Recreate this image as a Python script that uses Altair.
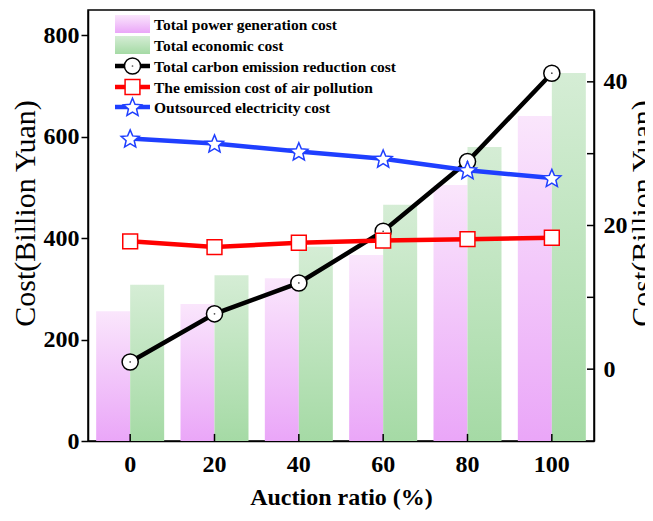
import math
import altair as alt
import pandas as pd

# ---------------- data ----------------
ratios = ["0", "20", "40", "60", "80", "100"]
power_generation = [256, 270, 321, 367, 505, 641]      # left axis
economic = [308, 327, 383, 466, 580, 726]              # left axis
carbon_reduction = [1.0, 7.7, 12.0, 19.2, 28.9, 41.2]  # right axis
air_pollution = [17.8, 17.0, 17.6, 17.9, 18.1, 18.3]   # right axis
outsourced = [32.1, 31.4, 30.3, 29.3, 27.7, 26.6]      # right axis

bar_names = ["Total power generation cost", "Total economic cost"]
line_names = [
    "Total carbon emission reduction cost",
    "The emission cost of air pollution",
    "Outsourced electricity cost",
]
left_ticks = [0, 200, 400, 600, 800]
right_ticks = [0, 10, 20, 30, 40]
x_title = "Auction ratio (%)"
y_title = "Cost(Billion Yuan)"

# ---------------- styling ----------------
FONT = "Liberation Serif"
W, H = 506, 431
PINK = ("#fae6fc", "#eaa6f8")
GREEN = ("#d5edd5", "#a5daa5")
LINE_COLORS = ["#000000", "#ff0000", "#1f3fff"]


def star_path(inner=0.45):
    pts = []
    for k in range(10):
        r = 1.0 if k % 2 == 0 else inner
        a = math.radians(-90 + 36 * k)
        pts.append(f"{r * math.cos(a):.3f},{r * math.sin(a) + 0.08:.3f}")
    return "M" + "L".join(pts) + "Z"


SHAPES = ["circle", "square", star_path()]
SIZES = [260, 220, 360]
LEFT_DOMAIN = [0, 850]
RIGHT_DOMAIN = [-10, 50]


def grad(c):
    return alt.LinearGradient(
        gradient="linear",
        stops=[alt.GradientStop(offset=0, color=c[0]), alt.GradientStop(offset=1, color=c[1])],
        x1=0, x2=0, y1=0, y2=1,
    )


x_axis = alt.Axis(
    title=x_title, labelAngle=0, ticks=False, labelPadding=11,
    labelFontSize=24, labelFontWeight="bold", titleFontSize=24,
    titleFontWeight="bold", titlePadding=9, orient="bottom",
)
x_scale = alt.Scale(paddingInner=0.19, paddingOuter=0.095)


def X():
    return alt.X("ratio:O", sort=ratios, scale=x_scale, axis=x_axis)


def YL(show=False):
    ax = alt.Axis(
        orient="left", values=left_ticks, title=y_title, tickSize=7, labelPadding=2,
        labelFontSize=24, labelFontWeight="bold", titleFontSize=30,
        titleFontWeight="normal", titlePadding=3, titleY=203,
    )
    return alt.Y("value:Q", scale=alt.Scale(domain=LEFT_DOMAIN, nice=False, zero=False),
                 axis=ax if show else None)


def YR(show=False):
    ax = alt.Axis(
        orient="right", values=right_ticks, ticks=False, labelPadding=9,
        labelExpr="datum.value % 20 == 0 ? datum.label : ''",
        title=y_title, labelFontSize=24, labelFontWeight="bold",
        titleFontSize=30, titleFontWeight="normal", titleAngle=270, titleBaseline="top",
        titlePadding=0, titleY=203,
    )
    return alt.Y("cost:Q", scale=alt.Scale(domain=RIGHT_DOMAIN, nice=False, zero=False),
                 axis=ax if show else None)


layers = []

# bars (pink left, green right inside each group)
for name, vals, c, side in zip(bar_names, [power_generation, economic], [PINK, GREEN], [-1, 1]):
    df = pd.DataFrame({"ratio": ratios, "value": vals})
    layers.append(
        alt.Chart(df).mark_bar(fill=grad(c), width=34, xOffset=17 * side).encode(
            x=X(), y=YL(show=(side == -1)))
    )

# inward x ticks
layers.append(
    alt.Chart(pd.DataFrame({"ratio": ratios, "lo": [0] * 6, "hi": [14] * 6})).mark_rule(
        color="black", strokeWidth=1.5).encode(
        x=X(),
        y=alt.Y("lo:Q", scale=alt.Scale(domain=LEFT_DOMAIN, nice=False, zero=False), axis=None),
        y2="hi:Q")
)

# lines with markers
first = True
for name, vals, col, shp, sz in zip(line_names, [carbon_reduction, air_pollution, outsourced],
                                    LINE_COLORS, SHAPES, SIZES):
    df = pd.DataFrame({"ratio": ratios, "cost": vals})
    base = alt.Chart(df)
    layers.append(base.mark_line(color=col, strokeWidth=4.5).encode(x=X(), y=YR(show=first)))
    first = False
    layers.append(
        base.mark_point(shape=shp, size=sz, filled=True, fill="white", stroke=col,
                        strokeWidth=1.5, opacity=1).encode(x=X(), y=YR())
    )
    if shp == "circle":
        layers.append(
            base.mark_point(shape="circle", size=3, filled=True, color="black").encode(x=X(), y=YR())
        )

# inward right-axis ticks
layers.append(
    alt.Chart(pd.DataFrame({"cost": right_ticks})).mark_rule(color="black", strokeWidth=1.5).encode(
        y=YR(), x=alt.value(W - 7), x2=alt.value(W))
)

# ---------------- legend (drawn inside the plot, top-left) ----------------
one = pd.DataFrame({"k": [0]})
LX0, LX1, LTX = 27, 62, 66
rows = [14, 35, 56, 77, 97]
for i, c in enumerate([PINK, GREEN]):
    layers.append(alt.Chart(one).mark_rect(fill=grad(c)).encode(
        x=alt.value(LX0), x2=alt.value(LX1), y=alt.value(rows[i] - 9), y2=alt.value(rows[i] + 9)))
for j, (col, shp, sz) in enumerate(zip(LINE_COLORS, SHAPES, SIZES)):
    r = rows[j + 2]
    layers.append(alt.Chart(one).mark_rule(color=col, strokeWidth=4.5).encode(
        x=alt.value(LX0), x2=alt.value(LX1), y=alt.value(r)))
    layers.append(alt.Chart(one).mark_point(shape=shp, size=sz, filled=True, fill="white", stroke=col,
                                            strokeWidth=1.5, opacity=1).encode(
        x=alt.value((LX0 + LX1) / 2), y=alt.value(r)))
    if shp == "circle":
        layers.append(alt.Chart(one).mark_point(shape="circle", size=3, filled=True, color="black").encode(
            x=alt.value((LX0 + LX1) / 2), y=alt.value(r)))
for i, name in enumerate(bar_names + line_names):
    layers.append(alt.Chart(one).mark_text(
        text=name, font=FONT, fontSize=15.5, fontWeight="bold", align="left", baseline="middle",
        color="black").encode(x=alt.value(LTX), y=alt.value(rows[i] + 1)))

chart = alt.layer(*layers).resolve_scale(y="independent").properties(
    width=W, height=H,
    padding={"left": 80, "top": 2, "right": 51, "bottom": 72},
    autosize=alt.AutoSizeParams(type="none"),
).configure_view(stroke="black", strokeWidth=1.5).configure_axis(
    labelFont=FONT, titleFont=FONT, domainColor="black", domainWidth=1.5,
    tickColor="black", tickWidth=1.5, labelColor="black", titleColor="black", grid=False,
)

chart.save("out.html", embed_options={"renderer": "svg", "actions": False})
